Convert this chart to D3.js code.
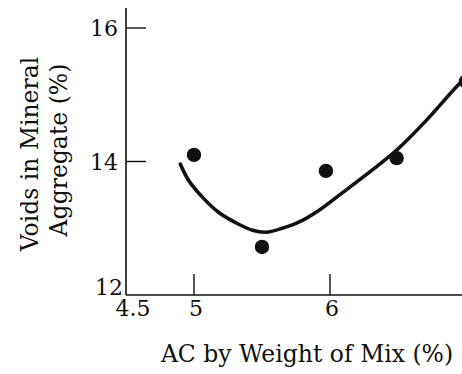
<!DOCTYPE html>
<html><head><meta charset="utf-8">
<script src="https://cdn.jsdelivr.net/npm/d3@7"></script>
<style>
html,body{margin:0;padding:0;background:#fff;overflow:hidden;}
svg{display:block;}
text{font-family:"DejaVu Serif",serif;fill:#111;}
</style></head>
<body>
<svg id="chart" width="462" height="374"></svg>
<script>
// Data
const pointX = [5.0, 5.5, 5.97, 6.49, 7.0];
const pointY = [14.1, 12.72, 13.86, 14.05, 15.2];
const curveX = [4.9, 4.96, 5.06, 5.18, 5.31, 5.43, 5.53, 5.65, 5.77, 5.92, 6.09, 6.34, 6.49, 6.71, 6.93, 7.0];
const curveY = [13.96, 13.72, 13.47, 13.24, 13.08, 12.97, 12.94, 13.0, 13.09, 13.27, 13.53, 13.92, 14.17, 14.62, 15.12, 15.26];
const xTicks = [5, 6];
const xTickLabels = ["4.5", "5", "6"];
const xLabelValues = [4.5, 5, 6];
const yTicks = [16, 14];
const yTickLabels = ["16", "14", "12"];
const yLabelValues = [16, 14, 12];
const xTitle = "AC by Weight of Mix (%)";
const yTitle = ["Voids in Mineral", "Aggregate (%)"];

const svg = d3.select("#chart");
const x = d3.scaleLinear().domain([4.5, 7]).range([126, 466]);
const y = d3.scaleLinear().domain([12, 16]).range([295, 28]);
const ink = "#111";

// axes lines
svg.append("line").attr("x1", x(4.5)).attr("x2", x(4.5)).attr("y1", y(16.3)).attr("y2", y(12))
  .attr("stroke", ink).attr("stroke-width", 1.6);
svg.append("line").attr("x1", x(4.5)).attr("x2", 462).attr("y1", y(12)).attr("y2", y(12))
  .attr("stroke", ink).attr("stroke-width", 1.6);

// inward ticks
svg.selectAll(".yt").data(yTicks).enter().append("line")
  .attr("x1", x(4.5)).attr("x2", x(4.5) + 20).attr("y1", d => y(d)).attr("y2", d => y(d))
  .attr("stroke", ink).attr("stroke-width", 1.4);
svg.selectAll(".xt").data(xTicks).enter().append("line")
  .attr("x1", d => x(d)).attr("x2", d => x(d)).attr("y1", y(12)).attr("y2", y(12) - 21)
  .attr("stroke", ink).attr("stroke-width", 1.4);

// tick labels
svg.selectAll(".yl").data(yLabelValues).enter().append("text")
  .attr("x", (d, i) => i === 2 ? 123 : 118)
  .attr("y", (d, i) => i === 2 ? y(d) : y(d) + 8)
  .attr("text-anchor", "end").attr("font-size", 22)
  .text((d, i) => yTickLabels[i]);
svg.selectAll(".xl").data(xLabelValues).enter().append("text")
  .attr("x", (d, i) => i === 0 ? x(d) + 7 : x(d) + 2)
  .attr("y", 316)
  .attr("text-anchor", "middle").attr("font-size", 22)
  .text((d, i) => xTickLabels[i]);

// titles
svg.append("text").attr("x", 307).attr("y", 362).attr("text-anchor", "middle")
  .attr("font-size", 23.5).text(xTitle);
svg.append("text").attr("transform", "translate(38,154) rotate(-90)").attr("text-anchor", "middle")
  .attr("font-size", 23.5).text(yTitle[0]);
svg.append("text").attr("transform", "translate(67,150) rotate(-90)").attr("text-anchor", "middle")
  .attr("font-size", 23.5).text(yTitle[1]);

// fitted curve
const curveData = curveX.map((v, i) => [v, curveY[i]]);
svg.append("path").datum(curveData)
  .attr("d", d3.line().x(d => x(d[0])).y(d => y(d[1])).curve(d3.curveCatmullRom.alpha(0.5)))
  .attr("fill", "none").attr("stroke", ink).attr("stroke-width", 3.6).attr("stroke-linecap", "round");

// points
svg.selectAll(".pt").data(pointX.map((v, i) => [v, pointY[i]])).enter().append("circle")
  .attr("cx", d => x(d[0])).attr("cy", d => y(d[1])).attr("r", 7.2).attr("fill", ink);
</script>
</body></html>
